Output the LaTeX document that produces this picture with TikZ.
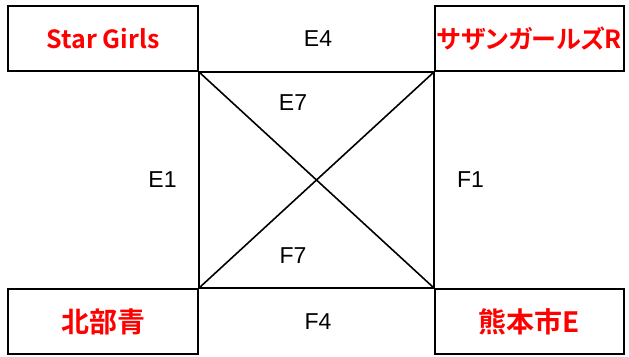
\documentclass[tikz,border=0pt]{standalone}
\usepackage{fontspec}
\setmainfont{Liberation Sans}
\newfontfamily\jpbold[RawFeature=+palt]{Noto Sans CJK JP Bold}
\begin{document}
\begin{tikzpicture}[x=1pt,y=-1pt,
  box/.style={draw=black,line width=1.6pt,minimum width=190pt,minimum height=65pt,inner sep=0pt,
    font=\jpbold\fontsize{25}{28}\selectfont,text=red},
  big/.style={font=\jpbold\fontsize{28}{30}\selectfont},
  lab/.style={font=\fontsize{23}{26}\selectfont,text=black,inner sep=0pt},
  edge/.style={draw=black,line width=1.6pt}]
\useasboundingbox[fill=white] (0,0) rectangle (629,356);
\node[box] (tl) at (103,38.5) {Star Girls};
\node[box,minimum width=189pt] (tr) at (529.5,38.5) {サザンガールズR};
\node[box,big] (bl) at (103,321.5) {北部青};
\node[box,big,minimum width=189pt] (br) at (529.5,321.5) {熊本市E};
\draw[edge] (tl.south east) -- (tr.south west);
\draw[edge] (bl.north east) -- (br.north west);
\draw[edge] (tl.south east) -- (bl.north east);
\draw[edge] (tr.south west) -- (br.north west);
\draw[edge] (tl.south east) -- (br.north west);
\draw[edge] (tr.south west) -- (bl.north east);
\node[lab] (e4) at (318,38.5) {E4};
\node[lab] (e7) at (293,103) {E7};
\node[lab] (e1) at (162.5,180) {E1};
\node[lab] (f1) at (470.5,180) {F1};
\node[lab] (f7) at (293,256) {F7};
\node[lab] (f4) at (318,322) {F4};
\end{tikzpicture}
\end{document}
